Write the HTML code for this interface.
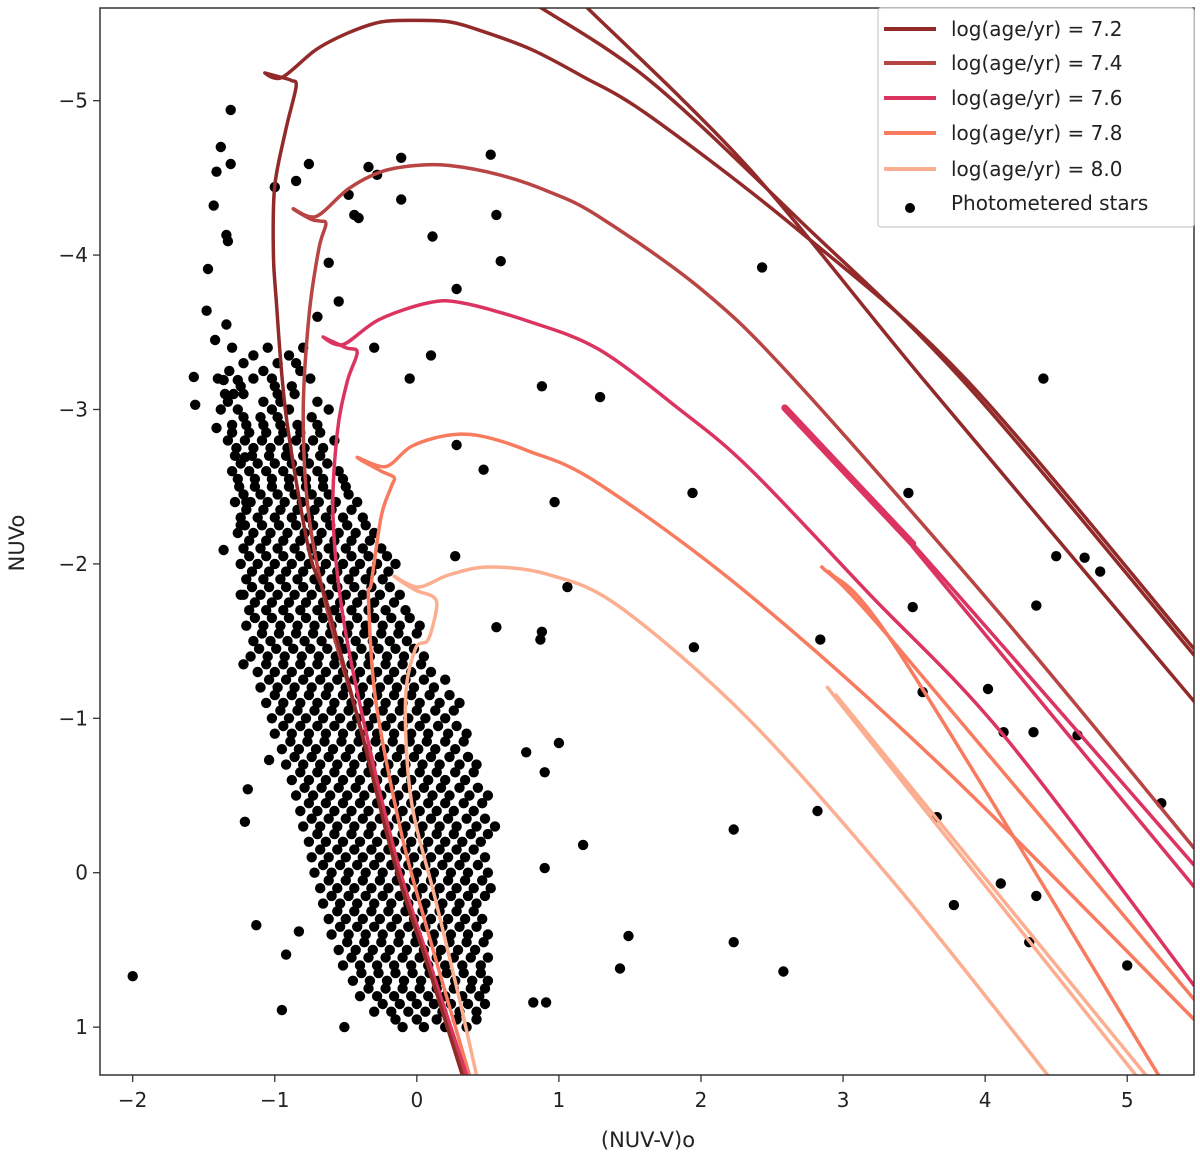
<!DOCTYPE html>
<html><head><meta charset="utf-8"><style>
html,body{margin:0;padding:0;background:#fff;}
svg{display:block;font-family:"DejaVu Sans","Liberation Sans",sans-serif;}
</style></head><body>
<svg id="chart" width="1200" height="1164" viewBox="0 0 1200 1164" xmlns="http://www.w3.org/2000/svg">
<defs><clipPath id="clip"><rect x="100" y="8" width="1094" height="1067"/></clipPath></defs>
<rect x="0" y="0" width="1200" height="1164" fill="#fff"/>
<g id="stars" clip-path="url(#clip)"></g>
<g id="lines" clip-path="url(#clip)"></g>
<rect x="100" y="8" width="1094" height="1067" fill="none" stroke="#333" stroke-width="1.5"/>
<g id="xticks"></g>
<g id="yticks"></g>
<text x="648" y="1147" font-size="21" text-anchor="middle" fill="#222">(NUV-V)o</text>
<text x="0" y="0" font-size="21" text-anchor="middle" fill="#222" transform="translate(24,543) rotate(-90)">NUVo</text>
<g id="legend">
<rect x="878" y="8" width="316" height="219" fill="#fff" fill-opacity="0.85" stroke="#ccc" stroke-width="1.2" rx="3"/>
</g>
</svg>
<script>
const xMin=-2.23,xMax=5.47,yMin=-5.6,yMax=1.31;
const xTicks=[-2,-1,0,1,2,3,4,5];
const yTicks=[-5,-4,-3,-2,-1,0,1];
const ages=["7.2","7.4","7.6","7.8","8.0"];
const colors=["#922a2a","#b94444","#dc3461","#f87b5f","#fbae90"];
const iso72main_x=[0.32,0.08,-0.15,-0.39,-0.64,-0.76,-0.92,-0.99,-1.01,-1.00,-0.92,-0.85,-0.88,-0.95,-1.07,-0.95,-0.71,-0.48,-0.25,-0.01,0.23,0.46,0.81,1.16,1.64,2.70,3.87,5.47];
const iso72main_y=[1.31,0.61,-0.04,-0.91,-1.77,-2.09,-2.96,-3.71,-4.04,-4.45,-4.82,-5.09,-5.13,-5.15,-5.18,-5.15,-5.33,-5.44,-5.51,-5.52,-5.51,-5.45,-5.33,-5.16,-4.90,-4.15,-3.19,-1.45];
const iso72a_x=[0.86,1.64,2.70,3.87,5.47];
const iso72a_y=[-5.61,-5.13,-4.22,-3.16,-1.41];
const iso72b_x=[1.19,2.34,3.56,5.47];
const iso72b_y=[-5.61,-4.56,-3.20,-1.11];
const iso74main_x=[0.33,0.08,-0.15,-0.39,-0.62,-0.76,-0.80,-0.76,-0.69,-0.64,-0.68,-0.74,-0.87,-0.71,-0.48,-0.25,-0.01,0.23,0.58,0.93,1.28,2.00,2.65,4.11,5.47];
const iso74main_y=[1.31,0.60,-0.05,-0.92,-1.66,-2.31,-2.96,-3.60,-4.04,-4.20,-4.22,-4.23,-4.30,-4.25,-4.43,-4.54,-4.58,-4.58,-4.52,-4.41,-4.25,-3.78,-3.20,-1.67,-0.16];
const iso76main_x=[0.35,0.10,-0.13,-0.36,-0.52,-0.59,-0.56,-0.49,-0.42,-0.50,-0.66,-0.52,-0.27,0.08,0.32,0.79,1.28,1.85,2.34,3.19,4.13,5.47];
const iso76main_y=[1.31,0.61,-0.05,-0.92,-1.66,-2.31,-2.85,-3.18,-3.37,-3.40,-3.47,-3.42,-3.58,-3.69,-3.69,-3.57,-3.39,-3.00,-2.62,-1.80,-0.89,0.73];
const iso76thick_x=[2.59,3.49];
const iso76thick_y=[-3.01,-2.13];
const iso76b1_x=[2.59,3.49,5.47];
const iso76b1_y=[-3.01,-2.13,-0.05];
const iso76b2_x=[3.49,5.47];
const iso76b2_y=[-2.11,0.09];
const iso78main_x=[0.37,0.08,-0.11,-0.29,-0.34,-0.32,-0.25,-0.18,-0.16,-0.25,-0.42,-0.22,-0.04,0.20,0.44,0.79,1.28,2.34,3.75,5.47];
const iso78main_y=[1.31,0.39,-0.26,-1.12,-1.77,-1.88,-2.31,-2.50,-2.56,-2.60,-2.69,-2.63,-2.76,-2.83,-2.83,-2.73,-2.52,-1.80,-0.64,0.95];
const iso78b1_x=[2.85,3.33,5.47];
const iso78b1_y=[-1.98,-1.52,0.82];
const iso78b2_x=[2.90,3.40,5.22];
const iso78b2_y=[-1.95,-1.42,1.31];
const iso80main_x=[0.42,0.30,0.13,-0.04,-0.08,-0.01,0.08,0.14,0.11,-0.01,-0.16,0.01,0.23,0.51,0.93,1.43,2.34,3.40,4.44];
const iso80main_y=[1.31,0.82,0.17,-0.47,-1.12,-1.45,-1.51,-1.72,-1.79,-1.83,-1.92,-1.85,-1.93,-1.98,-1.93,-1.72,-0.99,0.11,1.31];
const iso80b1_x=[2.89,5.06];
const iso80b1_y=[-1.20,1.31];
const iso80b2_x=[2.95,5.13];
const iso80b2_y=[-1.15,1.31];
const outX=[-1.31,-1.38,-1.41,-1.31,-1.43,-1.34,-1.33,-1.47,-1.48,-1.34,-1.42,-1.57,-1.56,-1.41,-1.36,-1.26,-1.29,-1.00,-0.85,-0.76,-0.48,-0.44,-0.41,-0.11,-0.11,-0.34,-0.28,0.11,0.52,0.56,0.59,0.28,2.43,4.41,0.88,1.29,0.28,0.97,1.94,0.47,0.27,1.06,0.88,0.87,0.56,1.95,2.84,3.46,3.49,3.56,4.50,4.70,4.81,4.36,4.02,4.13,4.34,4.65,5.24,3.66,2.82,2.23,1.17,0.90,1.00,0.90,0.77,3.78,4.11,4.36,4.31,5.00,2.58,2.23,1.43,1.49,0.82,0.91,-2.00,-0.95,-0.51,-1.13,-0.92,-0.83,-1.21,-1.19,-1.04,-1.22,-1.24,-1.36,-1.24,-1.20,-1.21,-0.62,-0.70,-0.30,-0.05,0.10,-0.55];
const outY=[-4.94,-4.70,-4.54,-4.59,-4.32,-4.13,-4.09,-3.91,-3.64,-3.55,-3.45,-3.21,-3.03,-2.88,-3.19,-3.19,-3.10,-4.44,-4.48,-4.59,-4.39,-4.26,-4.24,-4.36,-4.63,-4.57,-4.52,-4.12,-4.65,-4.26,-3.96,-3.78,-3.92,-3.20,-3.15,-3.08,-2.77,-2.40,-2.46,-2.61,-2.05,-1.85,-1.56,-1.51,-1.59,-1.46,-1.51,-2.46,-1.72,-1.17,-2.05,-2.04,-1.95,-1.73,-1.19,-0.91,-0.91,-0.89,-0.45,-0.36,-0.40,-0.28,-0.18,-0.03,-0.84,-0.65,-0.78,0.21,0.07,0.15,0.45,0.60,0.64,0.45,0.62,0.41,0.84,0.84,0.67,0.89,1.00,0.34,0.53,0.38,-0.33,-0.54,-0.73,-1.35,-1.80,-2.09,-2.25,-2.40,-2.69,-3.95,-3.60,-3.40,-3.20,-3.35,-3.70];
const rowY=[-3.4,-3.3,-3.2,-3.1,-3.0,-2.9,-2.8,-2.7,-2.6,-2.5,-2.4,-2.3,-2.2,-2.1,-2.0,-1.9,-1.8,-1.7,-1.6,-1.5,-1.4,-1.3,-1.2,-1.1,-1.0,-0.9,-0.8,-0.7,-0.6,-0.5,-0.4,-0.3,-0.2,-0.1,0.0,0.1,0.2,0.3,0.4,0.5,0.6,0.7,0.8,0.9,1.0];
const rowX=[
[-1.3,-1.05,-0.8],
[-1.22,-0.98,-0.85],
[-1.4,-1.15,-1.02,-0.75],
[-1.35,-1.22,-0.98,-0.86],
[-1.38,-1.26,-1.02,-0.9,-0.62],
[-1.3,-1.2,-1.08,-0.96,-0.84,-0.7],
[-1.33,-1.21,-1.09,-0.97,-0.85,-0.73,-0.58],
[-1.28,-1.16,-1.04,-0.92,-0.8,-0.68],
[-1.3,-1.18,-1.06,-0.94,-0.82,-0.7,-0.55],
[-1.25,-1.14,-1.02,-0.9,-0.78,-0.66,-0.5],
[-1.28,-1.17,-1.05,-0.93,-0.81,-0.69,-0.57,-0.42],
[-1.24,-1.12,-1.0,-0.88,-0.76,-0.64,-0.52,-0.38],
[-1.26,-1.15,-1.03,-0.91,-0.79,-0.67,-0.55,-0.43,-0.3],
[-1.22,-1.1,-0.98,-0.86,-0.74,-0.62,-0.5,-0.38,-0.25],
[-1.24,-1.12,-1.0,-0.88,-0.76,-0.64,-0.52,-0.4,-0.28,-0.15],
[-1.2,-1.08,-0.96,-0.84,-0.72,-0.6,-0.48,-0.36,-0.24],
[-1.22,-1.1,-0.98,-0.86,-0.74,-0.62,-0.5,-0.38,-0.26,-0.12],
[-1.18,-1.06,-0.94,-0.82,-0.7,-0.58,-0.46,-0.34,-0.22,-0.08],
[-1.2,-1.08,-0.96,-0.84,-0.72,-0.6,-0.48,-0.36,-0.24,-0.12,0.02],
[-1.15,-1.03,-0.91,-0.79,-0.67,-0.55,-0.43,-0.31,-0.19,-0.07],
[-1.17,-1.05,-0.93,-0.81,-0.69,-0.57,-0.45,-0.33,-0.21,-0.09,0.05],
[-1.12,-1.0,-0.88,-0.76,-0.64,-0.52,-0.4,-0.28,-0.16,-0.04,0.1],
[-1.1,-0.98,-0.86,-0.74,-0.62,-0.5,-0.38,-0.26,-0.14,-0.02,0.12],
[-1.06,-0.94,-0.82,-0.7,-0.58,-0.46,-0.34,-0.22,-0.1,0.02,0.16,0.3],
[-1.02,-0.9,-0.78,-0.66,-0.54,-0.42,-0.3,-0.18,-0.06,0.06,0.2],
[-1.0,-0.88,-0.76,-0.64,-0.52,-0.4,-0.28,-0.16,-0.04,0.08,0.22,0.35],
[-0.95,-0.83,-0.71,-0.59,-0.47,-0.35,-0.23,-0.11,0.01,0.13,0.27],
[-0.92,-0.8,-0.68,-0.56,-0.44,-0.32,-0.2,-0.08,0.04,0.16,0.3,0.42],
[-0.88,-0.76,-0.64,-0.52,-0.4,-0.28,-0.16,-0.04,0.08,0.2,0.34],
[-0.85,-0.73,-0.61,-0.49,-0.37,-0.25,-0.13,-0.01,0.11,0.23,0.37,0.5],
[-0.82,-0.7,-0.58,-0.46,-0.34,-0.22,-0.1,0.02,0.14,0.26,0.4],
[-0.8,-0.68,-0.56,-0.44,-0.32,-0.2,-0.08,0.04,0.16,0.28,0.42,0.55],
[-0.76,-0.64,-0.52,-0.4,-0.28,-0.16,-0.04,0.08,0.2,0.32,0.45],
[-0.74,-0.62,-0.5,-0.38,-0.26,-0.14,-0.02,0.1,0.22,0.34,0.48],
[-0.72,-0.6,-0.48,-0.36,-0.24,-0.12,0.0,0.12,0.24,0.36,0.5],
[-0.68,-0.56,-0.44,-0.32,-0.2,-0.08,0.04,0.16,0.28,0.4,0.52],
[-0.66,-0.54,-0.42,-0.3,-0.18,-0.06,0.06,0.18,0.3,0.42],
[-0.62,-0.5,-0.38,-0.26,-0.14,-0.02,0.1,0.22,0.34,0.46],
[-0.6,-0.48,-0.36,-0.24,-0.12,0.0,0.12,0.24,0.36,0.5],
[-0.55,-0.43,-0.31,-0.19,-0.07,0.05,0.17,0.29,0.41],
[-0.52,-0.4,-0.28,-0.16,-0.04,0.08,0.2,0.32,0.45],
[-0.45,-0.33,-0.21,-0.09,0.03,0.15,0.27,0.39,0.5],
[-0.4,-0.28,-0.16,-0.04,0.08,0.2,0.32,0.44],
[-0.3,-0.18,-0.06,0.06,0.18,0.3,0.42],
[-0.1,0.05,0.2,0.35]
];
const row2Y=[-3.35,-3.25,-3.15,-3.05,-2.95,-2.85,-2.75,-2.65,-2.55,-2.45,-2.35,-2.25,-2.15,-2.05,-1.95,-1.85,-1.75,-1.65,-1.55,-1.45,-1.35,-1.25,-1.15,-1.05,-0.95,-0.85,-0.75,-0.65,-0.55,-0.45,-0.35,-0.25,-0.15,-0.05,0.05,0.15,0.25,0.35,0.45,0.55,0.65,0.75,0.85,0.95];
const row2X=[
[-1.15,-0.9],
[-1.32,-1.08,-0.82],
[-1.24,-1.0,-0.88],
[-1.33,-1.08,-0.96,-0.7],
[-1.22,-1.1,-0.98,-0.74],
[-1.3,-1.18,-1.06,-0.94,-0.82,-0.68],
[-1.27,-1.15,-1.03,-0.91,-0.79,-0.66],
[-1.24,-1.12,-1.0,-0.88,-0.76,-0.63],
[-1.26,-1.14,-1.02,-0.9,-0.78,-0.66,-0.52],
[-1.22,-1.1,-0.98,-0.86,-0.74,-0.62,-0.48],
[-1.2,-1.08,-0.96,-0.84,-0.72,-0.6,-0.46],
[-1.21,-1.09,-0.97,-0.85,-0.73,-0.61,-0.49,-0.36],
[-1.18,-1.06,-0.94,-0.82,-0.7,-0.58,-0.46,-0.33],
[-1.18,-1.06,-0.94,-0.82,-0.7,-0.58,-0.46,-0.34,-0.21],
[-1.16,-1.04,-0.92,-0.8,-0.68,-0.56,-0.44,-0.32,-0.2],
[-1.16,-1.04,-0.92,-0.8,-0.68,-0.56,-0.44,-0.32,-0.19],
[-1.14,-1.02,-0.9,-0.78,-0.66,-0.54,-0.42,-0.3,-0.16],
[-1.14,-1.02,-0.9,-0.78,-0.66,-0.54,-0.42,-0.3,-0.18,-0.05],
[-1.09,-0.97,-0.85,-0.73,-0.61,-0.49,-0.37,-0.25,-0.13,0.0],
[-1.11,-0.99,-0.87,-0.75,-0.63,-0.51,-0.39,-0.27,-0.15,-0.02],
[-1.06,-0.94,-0.82,-0.7,-0.58,-0.46,-0.34,-0.22,-0.1,0.03],
[-1.04,-0.92,-0.8,-0.68,-0.56,-0.44,-0.32,-0.2,-0.08,0.05,0.2],
[-1.0,-0.88,-0.76,-0.64,-0.52,-0.4,-0.28,-0.16,-0.04,0.09,0.23],
[-0.96,-0.84,-0.72,-0.6,-0.48,-0.36,-0.24,-0.12,0.0,0.13,0.26],
[-0.94,-0.82,-0.7,-0.58,-0.46,-0.34,-0.22,-0.1,0.02,0.15,0.28],
[-0.89,-0.77,-0.65,-0.53,-0.41,-0.29,-0.17,-0.05,0.07,0.2,0.33],
[-0.86,-0.74,-0.62,-0.5,-0.38,-0.26,-0.14,-0.02,0.1,0.23,0.36],
[-0.82,-0.7,-0.58,-0.46,-0.34,-0.22,-0.1,0.02,0.14,0.27,0.4],
[-0.79,-0.67,-0.55,-0.43,-0.31,-0.19,-0.07,0.05,0.17,0.3,0.43],
[-0.76,-0.64,-0.52,-0.4,-0.28,-0.16,-0.04,0.08,0.2,0.33,0.46],
[-0.74,-0.62,-0.5,-0.38,-0.26,-0.14,-0.02,0.1,0.22,0.35,0.48],
[-0.7,-0.58,-0.46,-0.34,-0.22,-0.1,0.02,0.14,0.26,0.38,0.5],
[-0.68,-0.56,-0.44,-0.32,-0.2,-0.08,0.04,0.16,0.28,0.4],
[-0.66,-0.54,-0.42,-0.3,-0.18,-0.06,0.06,0.18,0.3,0.43],
[-0.62,-0.5,-0.38,-0.26,-0.14,-0.02,0.1,0.22,0.34,0.46],
[-0.6,-0.48,-0.36,-0.24,-0.12,0.0,0.12,0.24,0.36,0.48],
[-0.56,-0.44,-0.32,-0.2,-0.08,0.04,0.16,0.28,0.4],
[-0.54,-0.42,-0.3,-0.18,-0.06,0.06,0.18,0.3,0.42],
[-0.49,-0.37,-0.25,-0.13,-0.01,0.11,0.23,0.35,0.47],
[-0.46,-0.34,-0.22,-0.1,0.02,0.14,0.26,0.38,0.5],
[-0.39,-0.27,-0.15,-0.03,0.09,0.21,0.33,0.45],
[-0.34,-0.22,-0.1,0.02,0.14,0.26,0.38,0.48],
[-0.24,-0.12,0.0,0.12,0.24,0.36,0.48],
[-0.15,0.0,0.14,0.28,0.42]
];

const NS="http://www.w3.org/2000/svg";
const X0=100,X1=1194,Y0=8,Y1=1075;
function sx(v){return X0+(v-xMin)/(xMax-xMin)*(X1-X0);}
function sy(v){return Y0+(v-yMin)/(yMax-yMin)*(Y1-Y0);}
function mk(tag,attrs,parent){const e=document.createElementNS(NS,tag);for(const k in attrs)e.setAttribute(k,attrs[k]);parent.appendChild(e);return e;}

const starsG=document.getElementById('stars');
function star(x,y){
  const c=mk('circle',{cx:sx(x).toFixed(1),cy:sy(y).toFixed(1),r:5.2,fill:'#000'},starsG);
  
  
}
rowY.forEach((y,i)=>{rowX[i].forEach(x=>star(x,y));});
row2Y.forEach((y,i)=>{row2X[i].forEach(x=>star(x,y));});
outX.forEach((x,i)=>star(x,outY[i]));

const linesG=document.getElementById('lines');
function smoothPath(pts){
  let d='M'+pts[0][0].toFixed(1)+' '+pts[0][1].toFixed(1);
  for(let i=0;i<pts.length-1;i++){
    const p0=pts[Math.max(0,i-1)],p1=pts[i],p2=pts[i+1],p3=pts[Math.min(pts.length-1,i+2)];
    const t=0.16;
    const c1=[p1[0]+(p2[0]-p0[0])*t,p1[1]+(p2[1]-p0[1])*t];
    const c2=[p2[0]-(p3[0]-p1[0])*t,p2[1]-(p3[1]-p1[1])*t];
    d+=' C'+c1[0].toFixed(1)+' '+c1[1].toFixed(1)+' '+c2[0].toFixed(1)+' '+c2[1].toFixed(1)+' '+p2[0].toFixed(1)+' '+p2[1].toFixed(1);
  }
  return d;
}
function seg(ai,xs,ys,w,name){
  const pts=xs.map((x,i)=>[sx(x),sy(ys[i])]);
  const p=mk('path',{d:smoothPath(pts),fill:'none',stroke:colors[ai],'stroke-width':w,'stroke-linejoin':'round','stroke-linecap':'round'},linesG);
  
  
}
seg(4,iso80main_x,iso80main_y,3.5,'isochrone-8.0');
seg(4,iso80b1_x,iso80b1_y,3.5,'isochrone-8.0-loop');
seg(4,iso80b2_x,iso80b2_y,3.5,'isochrone-8.0-loop');
seg(3,iso78main_x,iso78main_y,3.5,'isochrone-7.8');
seg(3,iso78b1_x,iso78b1_y,3.5,'isochrone-7.8-loop');
seg(3,iso78b2_x,iso78b2_y,3.5,'isochrone-7.8-loop');
seg(2,iso76main_x,iso76main_y,3.5,'isochrone-7.6');
seg(2,iso76b1_x,iso76b1_y,3.5,'isochrone-7.6-loop');
seg(2,iso76b2_x,iso76b2_y,3.5,'isochrone-7.6-loop');
seg(2,iso76thick_x,iso76thick_y,7,'isochrone-7.6-loop-thick');
seg(1,iso74main_x,iso74main_y,3.5,'isochrone-7.4');
seg(0,iso72main_x,iso72main_y,3.5,'isochrone-7.2');
seg(0,iso72a_x,iso72a_y,3.5,'isochrone-7.2-loop');
seg(0,iso72b_x,iso72b_y,3.5,'isochrone-7.2-loop');

const xg=document.getElementById('xticks');
xTicks.forEach(v=>{
  const l=mk('line',{x1:sx(v),x2:sx(v),y1:Y1,y2:Y1+7,stroke:'#333','stroke-width':1.3},xg);
  
  
  const t=mk('text',{x:sx(v),y:Y1+32,'font-size':20,'text-anchor':'middle',fill:'#222'},xg);
  
  
  t.textContent=v<0?'\u2212'+(-v):String(v);
});
const yg=document.getElementById('yticks');
yTicks.forEach(v=>{
  const l=mk('line',{x1:X0-7,x2:X0,y1:sy(v),y2:sy(v),stroke:'#333','stroke-width':1.3},yg);
  
  
  const t=mk('text',{x:X0-12,y:sy(v)+7,'font-size':20,'text-anchor':'end',fill:'#222'},yg);
  
  
  t.textContent=v<0?'\u2212'+(-v):String(v);
});

const lg=document.getElementById('legend');
const legY=[29,63,98,133,169];
ages.forEach((a,i)=>{
  const l=mk('line',{x1:884,x2:936,y1:legY[i],y2:legY[i],stroke:colors[i],'stroke-width':4},lg);
  
  
  const t=mk('text',{x:951,y:legY[i]+7,'font-size':20,fill:'#222'},lg);
  
  
  t.textContent='log(age/yr) = '+a;
});
const ld=mk('circle',{cx:910,cy:208,r:5,fill:'#000'},lg);


const lt=mk('text',{x:951,y:210,'font-size':20,fill:'#222'},lg);


lt.textContent='Photometered stars';
</script>
</body></html>
